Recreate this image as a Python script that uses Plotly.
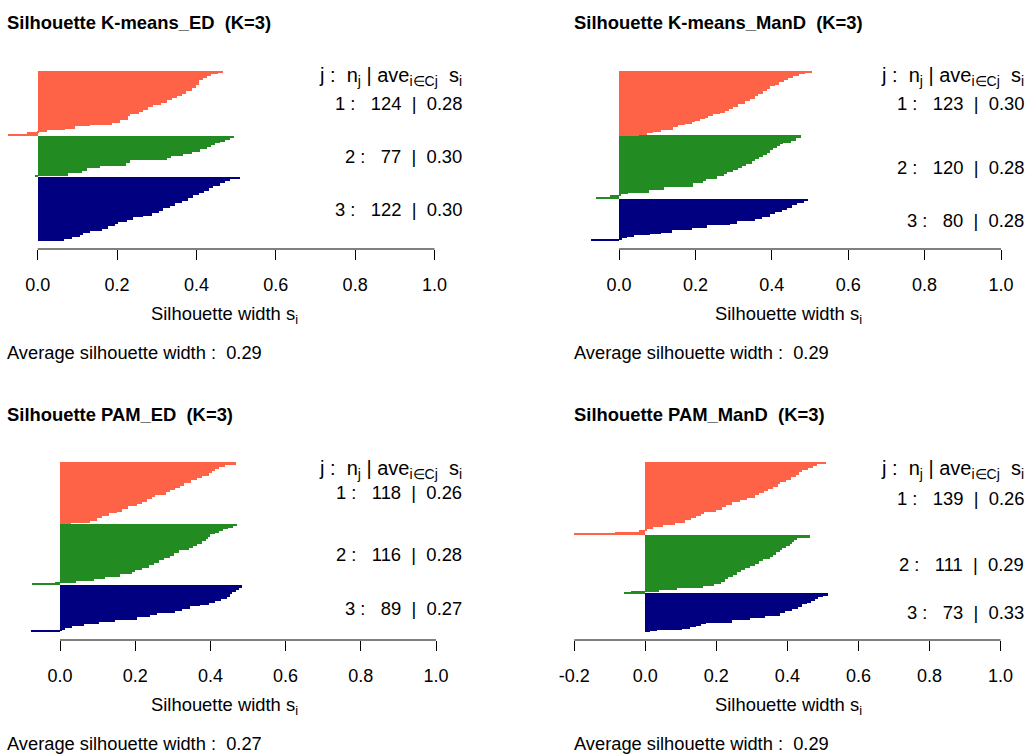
import plotly.graph_objects as go

W, H = 1035, 755
FONT = "Liberation Sans, Arial, sans-serif"

# ---------------- data ----------------
PANEL_TITLES = ["Silhouette K-means_ED  (K=3)", "Silhouette K-means_ManD  (K=3)",
                "Silhouette PAM_ED  (K=3)", "Silhouette PAM_ManD  (K=3)"]
CLUSTER_COLORS = ["#FF6347", "#228B22", "#000080"]
CLUSTER_IDS = ["1", "2", "3"]
CLUSTER_N = [[124, 77, 122], [123, 120, 80], [118, 116, 89], [139, 111, 73]]
CLUSTER_AVE = [["0.28", "0.30", "0.30"], ["0.30", "0.28", "0.28"],
               ["0.26", "0.28", "0.27"], ["0.26", "0.29", "0.33"]]
AVG_WIDTH = ["0.29", "0.29", "0.27", "0.29"]
TICKS_POS = [0.0, 0.2, 0.4, 0.6, 0.8, 1.0]
TICKS_WITH_NEG = [-0.2, 0.0, 0.2, 0.4, 0.6, 0.8, 1.0]

# silhouette widths per cluster, sorted descending, as (value, number of observations)
KM_ED_C1 = [(0.468, 3), (0.455, 2), (0.436, 4), (0.426, 4), (0.417, 4), (0.407, 8), (0.400, 6),
            (0.388, 6), (0.373, 6), (0.363, 3), (0.350, 5), (0.338, 4), (0.325, 5), (0.310, 4),
            (0.290, 4), (0.279, 5), (0.266, 4), (0.256, 5), (0.233, 3), (0.227, 8), (0.207, 5),
            (0.186, 4), (0.132, 2), (0.094, 5), (0.069, 3), (0.023, 3), (0.003, 2), (-0.028, 4),
            (-0.074, 3)]
KM_ED_C2 = [(0.495, 3), (0.484, 3), (0.472, 3), (0.459, 3), (0.447, 3), (0.436, 5), (0.426, 4),
            (0.409, 4), (0.390, 4), (0.365, 5), (0.335, 3), (0.325, 5), (0.233, 4), (0.222, 6),
            (0.157, 4), (0.123, 6), (0.111, 4), (0.077, 6), (-0.006, 2)]
KM_ED_C3 = [(0.510, 3), (0.484, 4), (0.472, 4), (0.459, 4), (0.442, 5), (0.432, 5), (0.419, 4),
            (0.407, 5), (0.392, 5), (0.380, 5), (0.363, 5), (0.346, 5), (0.333, 4), (0.317, 5),
            (0.306, 5), (0.287, 5), (0.266, 3), (0.241, 5), (0.226, 4), (0.203, 3), (0.195, 5),
            (0.178, 5), (0.161, 4), (0.132, 4), (0.113, 3), (0.107, 5), (0.086, 3), (0.066, 5)]

KM_MAN_C1 = [(0.504, 3), (0.487, 2), (0.472, 3), (0.455, 5), (0.443, 4), (0.432, 3), (0.420, 5),
             (0.408, 3), (0.395, 5), (0.387, 5), (0.376, 5), (0.365, 4), (0.356, 5), (0.343, 5),
             (0.330, 5), (0.312, 5), (0.299, 4), (0.289, 5), (0.277, 3), (0.264, 3), (0.245, 3),
             (0.234, 3), (0.225, 3), (0.212, 3), (0.199, 3), (0.190, 3), (0.173, 3), (0.155, 3),
             (0.142, 6), (0.109, 3), (0.090, 3), (0.072, 3), (0.053, 2)]
KM_MAN_C2 = [(0.476, 4), (0.463, 5), (0.449, 3), (0.430, 3), (0.421, 3), (0.413, 5), (0.404, 4),
             (0.395, 4), (0.387, 5), (0.378, 4), (0.367, 4), (0.356, 4), (0.347, 4), (0.332, 4),
             (0.321, 4), (0.312, 4), (0.299, 4), (0.282, 4), (0.275, 4), (0.256, 6), (0.229, 4),
             (0.221, 4), (0.193, 7), (0.118, 6), (0.079, 5), (0.024, 2), (0.005, 4), (-0.024, 3),
             (-0.060, 3)]
KM_MAN_C3 = [(0.494, 3), (0.483, 4), (0.465, 4), (0.452, 5), (0.439, 3), (0.426, 4), (0.408, 5),
             (0.395, 5), (0.375, 4), (0.355, 4), (0.310, 5), (0.290, 3), (0.230, 5), (0.190, 4),
             (0.140, 5), (0.110, 2), (0.080, 3), (0.040, 3), (0.022, 3), (0.007, 3), (-0.074, 3)]

PAM_ED_C1 = [(0.468, 4), (0.440, 4), (0.422, 4), (0.413, 4), (0.404, 5), (0.396, 5), (0.378, 4),
             (0.364, 4), (0.348, 5), (0.329, 5), (0.320, 5), (0.307, 4), (0.293, 4), (0.282, 5),
             (0.253, 4), (0.244, 4), (0.231, 5), (0.218, 4), (0.206, 5), (0.182, 5), (0.164, 5),
             (0.151, 3), (0.129, 5), (0.111, 4), (0.098, 5), (0.080, 4), (0.028, 3)]
PAM_ED_C2 = [(0.471, 3), (0.460, 3), (0.447, 3), (0.434, 3), (0.422, 3), (0.413, 3), (0.400, 5),
             (0.393, 4), (0.387, 4), (0.378, 5), (0.364, 4), (0.354, 4), (0.342, 5), (0.316, 5),
             (0.304, 5), (0.293, 4), (0.276, 5), (0.262, 5), (0.251, 4), (0.236, 5), (0.218, 5),
             (0.200, 4), (0.191, 4), (0.160, 5), (0.120, 4), (0.091, 4), (0.043, 4), (-0.013, 2),
             (-0.075, 2)]
PAM_ED_C3 = [(0.484, 3), (0.476, 4), (0.469, 4), (0.458, 5), (0.452, 5), (0.443, 4), (0.428, 4),
             (0.413, 4), (0.396, 3), (0.373, 3), (0.347, 5), (0.324, 4), (0.307, 4), (0.258, 4),
             (0.240, 4), (0.204, 5), (0.147, 4), (0.105, 4), (0.064, 3), (0.031, 5), (0.013, 3),
             (0.003, 2), (-0.078, 3)]

PAM_MAN_C1 = [(0.509, 3), (0.483, 3), (0.472, 4), (0.458, 4), (0.442, 5), (0.434, 4), (0.423, 5),
              (0.411, 5), (0.397, 5), (0.380, 4), (0.374, 4), (0.360, 4), (0.346, 5), (0.333, 4),
              (0.320, 4), (0.308, 5), (0.285, 4), (0.266, 4), (0.245, 5), (0.228, 5), (0.217, 5),
              (0.200, 4), (0.165, 3), (0.158, 5), (0.144, 4), (0.130, 3), (0.111, 5), (0.083, 4),
              (0.051, 5), (0.022, 4), (0.002, 3), (-0.017, 3), (-0.085, 2), (-0.200, 3)]
PAM_MAN_C2 = [(0.463, 5), (0.427, 3), (0.420, 4), (0.414, 4), (0.406, 4), (0.397, 4), (0.386, 4),
              (0.378, 4), (0.367, 4), (0.360, 4), (0.350, 4), (0.331, 5), (0.320, 5), (0.308, 4),
              (0.294, 4), (0.280, 4), (0.270, 4), (0.257, 5), (0.247, 4), (0.233, 4), (0.224, 5),
              (0.212, 4), (0.193, 4), (0.163, 3), (0.088, 5), (0.039, 4), (-0.040, 2), (-0.060, 1)]
PAM_MAN_C3 = [(0.515, 3), (0.500, 3), (0.486, 3), (0.477, 3), (0.467, 4), (0.455, 3), (0.442, 5),
              (0.430, 4), (0.414, 4), (0.392, 4), (0.380, 5), (0.336, 5), (0.296, 4), (0.245, 4),
              (0.172, 3), (0.158, 3), (0.144, 3), (0.127, 3), (0.102, 3), (0.032, 2), (0.013, 2)]

PANEL_DATA = [[KM_ED_C1, KM_ED_C2, KM_ED_C3],
              [KM_MAN_C1, KM_MAN_C2, KM_MAN_C3],
              [PAM_ED_C1, PAM_ED_C2, PAM_ED_C3],
              [PAM_MAN_C1, PAM_MAN_C2, PAM_MAN_C3]]
PANEL_TICKS = [TICKS_POS, TICKS_POS, TICKS_POS, TICKS_WITH_NEG]

# ---------------- geometry (pixels) ----------------
GEOM = [
    dict(p0=37.7, p1=434.5, L=6, R=445, T=71, B=241, A=249, D=60, top=0, left=8, right=462, cx=224),
    dict(p0=619.0, p1=1001.0, L=570, R=1010, T=71, B=241, A=249, D=60, top=0, left=575, right=1024, cx=788),
    dict(p0=60.0, p1=436.0, L=6, R=445, T=462, B=632, A=640, D=451, top=392, left=8, right=462, cx=224),
    dict(p0=645.3, p1=1000.5, L=565, R=1010, T=462, B=632, A=640, D=451, top=392, left=575, right=1024, cx=788),
]
GAP = 1.0


def px_x(p):
    return p / W


def px_y(p):
    return 1 - p / H


fig = go.Figure()
layout = dict(width=W, height=H, margin=dict(l=0, r=0, t=0, b=0, autoexpand=False),
              paper_bgcolor="white", plot_bgcolor="white", showlegend=False,
              bargap=0, barmode="overlay", font=dict(family=FONT, color="black"))
annotations = []
shapes = []

for k in range(4):
    g = GEOM[k]
    xa = "xaxis" if k == 0 else f"xaxis{k+1}"
    ya = "yaxis" if k == 0 else f"yaxis{k+1}"
    xr = "x" if k == 0 else f"x{k+1}"
    yr = "y" if k == 0 else f"y{k+1}"

    # positions: cluster 3 at the bottom, cluster 1 on top; largest value on top within cluster
    pos = 0.0
    cluster_pos = {}
    for c in [2, 1, 0]:
        vals = [v for v, n in PANEL_DATA[k][c] for _ in range(n)]
        ys = []
        for v in reversed(vals):
            ys.append(pos)
            pos += 1
        cluster_pos[c] = ys
        fig.add_trace(go.Bar(x=list(reversed(vals)), y=ys, orientation="h", width=1.0,
                             marker=dict(color=CLUSTER_COLORS[c], line=dict(width=0)),
                             xaxis=xr, yaxis=yr, hoverinfo="x"))
        pos += GAP
    ylo = cluster_pos[2][0] - 0.5
    yhi = cluster_pos[0][-1] + 0.5
    s = (g["B"] - g["T"]) / (yhi - ylo)
    yrange = [ylo - (g["A"] - g["B"]) / s, yhi + (g["T"] - g["D"]) / s]

    xrange = [(g["L"] - g["p0"]) / (g["p1"] - g["p0"]), (g["R"] - g["p0"]) / (g["p1"] - g["p0"])]
    ticks = PANEL_TICKS[k]
    layout[xa] = dict(domain=[px_x(g["L"]), px_x(g["R"])], range=xrange, anchor=yr,
                      tickmode="array", tickvals=ticks, ticktext=[f"{t:.1f}" for t in ticks],
                      ticks="outside", ticklen=10, tickwidth=1, tickcolor="black",
                      showgrid=False, zeroline=False, showline=False,
                      tickfont=dict(size=18, family=FONT, color="black"),
                      ticklabelstandoff=9, fixedrange=True)
    layout[ya] = dict(domain=[px_y(g["A"]), px_y(g["D"])], range=yrange, anchor=xr,
                      visible=False, fixedrange=True)

    # axis line from first to last tick
    shapes.append(dict(type="line", xref=xr, yref="paper", x0=ticks[0], x1=ticks[-1],
                       y0=px_y(g["A"]), y1=px_y(g["A"]), line=dict(color="black", width=1)))

    # title
    annotations.append(dict(text=f"<b>{PANEL_TITLES[k]}</b>", xref="paper", yref="paper",
                            x=px_x(g["left"] - 3), y=px_y(g["top"] + 22), xanchor="left", yanchor="middle",
                            showarrow=False, font=dict(size=18.4, family=FONT, color="black")))
    # header
    annotations.append(dict(text="j :  n<sub>j</sub> | ave<sub>i∈Cj</sub>  s<sub>i</sub>",
                            xref="paper", yref="paper", x=px_x(g["right"] + 2), y=px_y(g["top"] + 77),
                            xanchor="right", yanchor="middle", showarrow=False,
                            font=dict(size=20, family=FONT, color="black")))
    # cluster labels
    for c in range(3):
        ys = cluster_pos[c]
        ymid = (ys[0] + ys[-1]) / 2
        annotations.append(dict(text=f"{CLUSTER_IDS[c]} :   {CLUSTER_N[k][c]}  |  {CLUSTER_AVE[k][c]}",
                                xref="paper", yref=yr, x=px_x(g["right"] + 2), y=ymid,
                                xanchor="right", yanchor="middle", showarrow=False,
                                font=dict(size=18.4, family=FONT, color="black")))
    # x-axis title
    annotations.append(dict(text="Silhouette width s<sub>i</sub>", xref="paper", yref="paper",
                            x=px_x(g["cx"]), y=px_y(g["A"] + 66), xanchor="center", yanchor="middle",
                            showarrow=False, font=dict(size=18.4, family=FONT, color="black")))
    # average
    annotations.append(dict(text=f"Average silhouette width :  {AVG_WIDTH[k]}", xref="paper", yref="paper",
                            x=px_x(g["left"] - 3), y=px_y(g["A"] + 103), xanchor="left", yanchor="middle",
                            showarrow=False, font=dict(size=18.3, family=FONT, color="black")))

layout["annotations"] = annotations
layout["shapes"] = shapes
fig.update_layout(**layout)
fig.write_html("out.html")
